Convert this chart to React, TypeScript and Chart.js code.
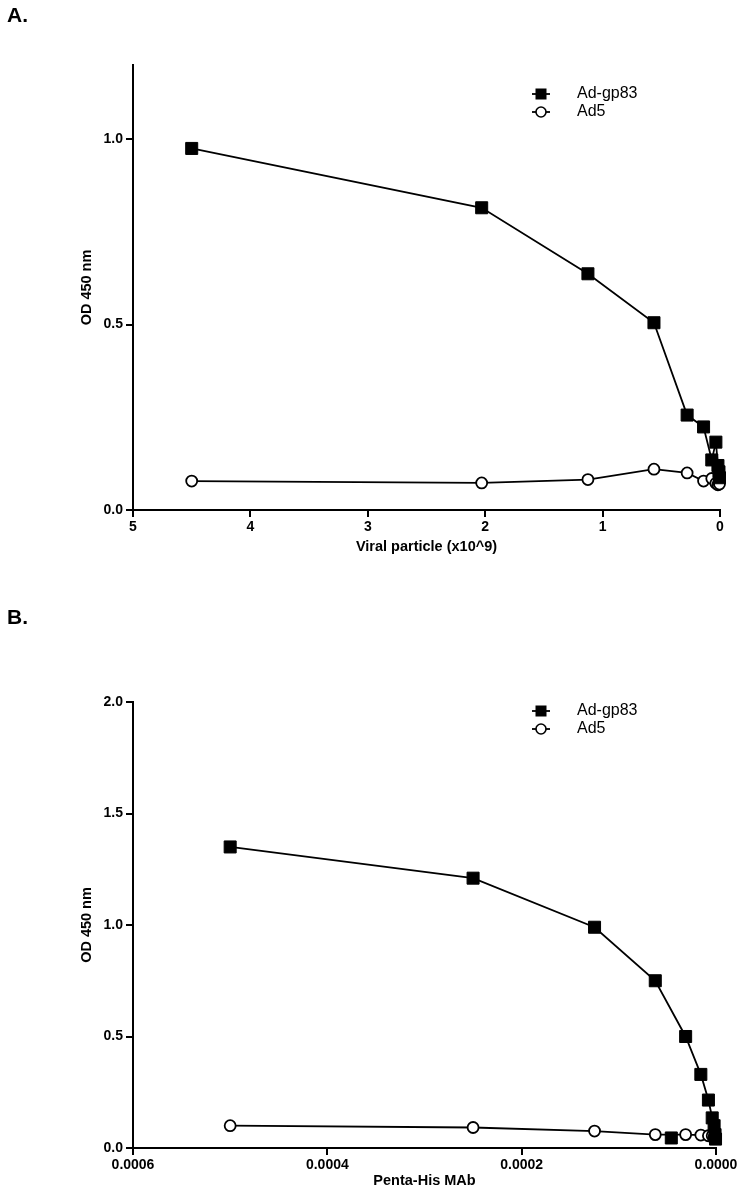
import React, { useEffect, useRef } from "react";
import { Chart, registerables } from "chart.js";

Chart.register(...registerables);

const FONT = "'Liberation Sans', Arial, Helvetica, sans-serif";

// ---------- Panel A data ----------
const seriesNames = ["Ad-gp83", "Ad5"];
const yTitle = "OD 450 nm";

const aX = [4.5, 2.03, 1.125, 0.5625, 0.28, 0.14, 0.07, 0.035, 0.0176, 0.0088, 0.0044];
const aAdGp83 = [0.975, 0.815, 0.637, 0.505, 0.256, 0.224, 0.135, 0.183, 0.12, 0.103, 0.087];
const aAd5 = [0.078, 0.073, 0.082, 0.11, 0.1, 0.078, 0.085, 0.072, 0.068, 0.075, 0.07];
const aXTicks = [5, 4, 3, 2, 1, 0];
const aYTicks = [0, 0.5, 1.0];
const aXTitle = "Viral particle (x10^9)";

// ---------- Panel B data ----------
const bX = [0.0005, 0.00025, 0.000125, 0.0000625, 0.00003125, 0.0000156, 0.0000078, 0.0000039, 0.00000195, 0.00000098, 0.00000049];
const bAdGp83 = [1.35, 1.21, 0.99, 0.75, 0.5, 0.33, 0.215, 0.135, 0.1, 0.06, 0.04];
const bAd5 = [0.1, 0.092, 0.076, 0.06, 0.06, 0.058, 0.055, 0.055, 0.05, 0.05, 0.05];
const bExtraX = [0.000046];
const bExtraY = [0.045];
const bXTicks = [0.0006, 0.0004, 0.0002, 0];
const bYTicks = [0, 0.5, 1.0, 1.5, 2.0];
const bXTitle = "Penta-His MAb";

const toPoints = (xs: number[], ys: number[]) => xs.map((x, i) => ({ x, y: ys[i] }));

const legendPlugin = {
  id: "customLegend",
  afterDraw(chart: any, _args: any, opts: any) {
    const ctx = chart.ctx as CanvasRenderingContext2D;
    const cx = opts.x;
    ctx.save();
    opts.items.forEach((item: any, i: number) => {
      const y = opts.ys[i];
      ctx.strokeStyle = "#000";
      ctx.lineWidth = 1.8;
      ctx.beginPath();
      ctx.moveTo(cx - 9, y);
      ctx.lineTo(cx + 9, y);
      ctx.stroke();
      if (item.style === "rect") {
        ctx.fillStyle = "#000";
        ctx.fillRect(cx - 5.5, y - 5.5, 11, 11);
      } else {
        ctx.beginPath();
        ctx.arc(cx, y, 5, 0, Math.PI * 2);
        ctx.fillStyle = "#fff";
        ctx.fill();
        ctx.lineWidth = 1.6;
        ctx.stroke();
      }
      ctx.fillStyle = "#000";
      ctx.font = `16px ${FONT}`;
      ctx.textBaseline = "middle";
      ctx.textAlign = "left";
      ctx.fillText(item.label, opts.textX, y);
    });
    ctx.restore();
  },
};

type Spec = {
  top: number;
  height: number;
  xs: number[];
  gp83: number[];
  ad5: number[];
  extraX?: number[];
  extraY?: number[];
  xMax: number;
  yMax: number;
  xTicks: number[];
  yTicks: number[];
  xFmt: (v: number) => string;
  xTitle: string;
  padTop: number;
  padRight: number;
  xAxisHeight: number;
  xTitlePadBottom: number;
  legendYs: number[];
};

function buildConfig(s: Spec): any {
  const tickFont = { family: FONT, size: 14, weight: "bold" };
  const titleFont = { family: FONT, size: 14.5, weight: "bold" };
  const datasets: any[] = [
    {
      label: seriesNames[0],
      data: toPoints(s.xs, s.gp83),
      showLine: true,
      borderColor: "#000",
      backgroundColor: "#000",
      borderWidth: 1.8,
      pointStyle: "rect",
      pointRadius: 8.5,
      pointBackgroundColor: "#000",
      pointBorderColor: "#000",
      pointBorderWidth: 1,
      tension: 0,
      clip: false,
    },
    {
      label: seriesNames[1],
      data: toPoints(s.xs, s.ad5),
      showLine: true,
      borderColor: "#000",
      backgroundColor: "#fff",
      borderWidth: 1.8,
      pointStyle: "circle",
      pointRadius: 5.5,
      pointBackgroundColor: "#fff",
      pointBorderColor: "#000",
      pointBorderWidth: 1.8,
      tension: 0,
      clip: false,
    },
  ];
  if (s.extraX && s.extraY) {
    datasets.push({
      label: "_extra",
      data: toPoints(s.extraX, s.extraY),
      showLine: false,
      pointStyle: "rect",
      pointRadius: 8.5,
      pointBackgroundColor: "#000",
      pointBorderColor: "#000",
      pointBorderWidth: 1,
      clip: false,
    });
  }
  return {
    type: "scatter",
    data: { datasets },
    options: {
      responsive: false,
      animation: false,
      devicePixelRatio: 1,
      layout: { padding: { top: s.padTop, right: s.padRight, left: 0, bottom: 0 } },
      plugins: {
        legend: { display: false },
        tooltip: { enabled: false },
        customLegend: {
          x: 541,
          textX: 577,
          ys: s.legendYs,
          items: [
            { label: seriesNames[0], style: "rect" },
            { label: seriesNames[1], style: "circle" },
          ],
        },
      },
      scales: {
        x: {
          type: "linear",
          reverse: true,
          min: 0,
          max: s.xMax,
          afterBuildTicks: (sc: any) => {
            sc.ticks = s.xTicks.map((v) => ({ value: v }));
          },
          afterFit: (sc: any) => {
            sc.height = s.xAxisHeight;
          },
          grid: { display: true, drawOnChartArea: false, drawTicks: true, tickLength: 7, color: "#000", lineWidth: 2 },
          border: { display: true, color: "#000", width: 2 },
          ticks: {
            color: "#000",
            font: tickFont,
            padding: 2,
            autoSkip: false,
            maxRotation: 0,
            callback: (v: any) => s.xFmt(Number(v)),
          },
          title: { display: true, text: s.xTitle, color: "#000", font: titleFont, padding: { top: 0, bottom: s.xTitlePadBottom } },
        },
        y: {
          type: "linear",
          min: 0,
          max: s.yMax,
          afterBuildTicks: (sc: any) => {
            sc.ticks = s.yTicks.map((v) => ({ value: v }));
          },
          afterFit: (sc: any) => {
            sc.width = 133;
          },
          grid: { display: true, drawOnChartArea: false, drawTicks: true, tickLength: 7, color: "#000", lineWidth: 2 },
          border: { display: true, color: "#000", width: 2 },
          ticks: {
            color: "#000",
            font: tickFont,
            padding: 3,
            autoSkip: false,
            callback: (v: any) => Number(v).toFixed(1),
          },
          title: { display: true, text: yTitle, color: "#000", font: titleFont, padding: { top: 78, bottom: 0 } },
        },
      },
    },
    plugins: [legendPlugin],
  };
}

const specA: Spec = {
  top: 0,
  height: 570,
  xs: aX,
  gp83: aAdGp83,
  ad5: aAd5,
  xMax: 5,
  yMax: 1.2,
  xTicks: aXTicks,
  yTicks: aYTicks,
  xFmt: (v) => String(v),
  xTitle: aXTitle,
  padTop: 65,
  padRight: 28,
  xAxisHeight: 60,
  xTitlePadBottom: 14,
  legendYs: [94, 112],
};

const specB: Spec = {
  top: 600,
  height: 594,
  xs: bX,
  gp83: bAdGp83,
  ad5: bAd5,
  extraX: bExtraX,
  extraY: bExtraY,
  xMax: 0.0006,
  yMax: 2.0,
  xTicks: bXTicks,
  yTicks: bYTicks,
  xFmt: (v) => v.toFixed(4),
  xTitle: bXTitle,
  padTop: 102,
  padRight: 32,
  xAxisHeight: 46,
  xTitlePadBottom: 4,
  legendYs: [111, 129],
};

function Panel({ spec }: { spec: Spec }) {
  const ref = useRef<HTMLCanvasElement>(null);
  useEffect(() => {
    const chart = new Chart(ref.current as HTMLCanvasElement, buildConfig(spec));
    return () => chart.destroy();
  }, [spec]);
  return (
    <canvas
      ref={ref}
      width={748}
      height={spec.height}
      style={{ position: "absolute", left: 0, top: spec.top, display: "block", width: 748, height: spec.height }}
    />
  );
}

export default function App() {
  const labelStyle: React.CSSProperties = {
    position: "absolute",
    left: 7,
    fontFamily: FONT,
    fontWeight: "bold",
    fontSize: 21,
    lineHeight: "22px",
    color: "#000",
  };
  return (
    <div style={{ position: "absolute", left: 0, top: 0, width: 748, height: 1194, background: "#fff", overflow: "hidden" }}>
      <Panel spec={specA} />
      <Panel spec={specB} />
      <div style={{ ...labelStyle, top: 4 }}>A.</div>
      <div style={{ ...labelStyle, top: 606 }}>B.</div>
    </div>
  );
}
